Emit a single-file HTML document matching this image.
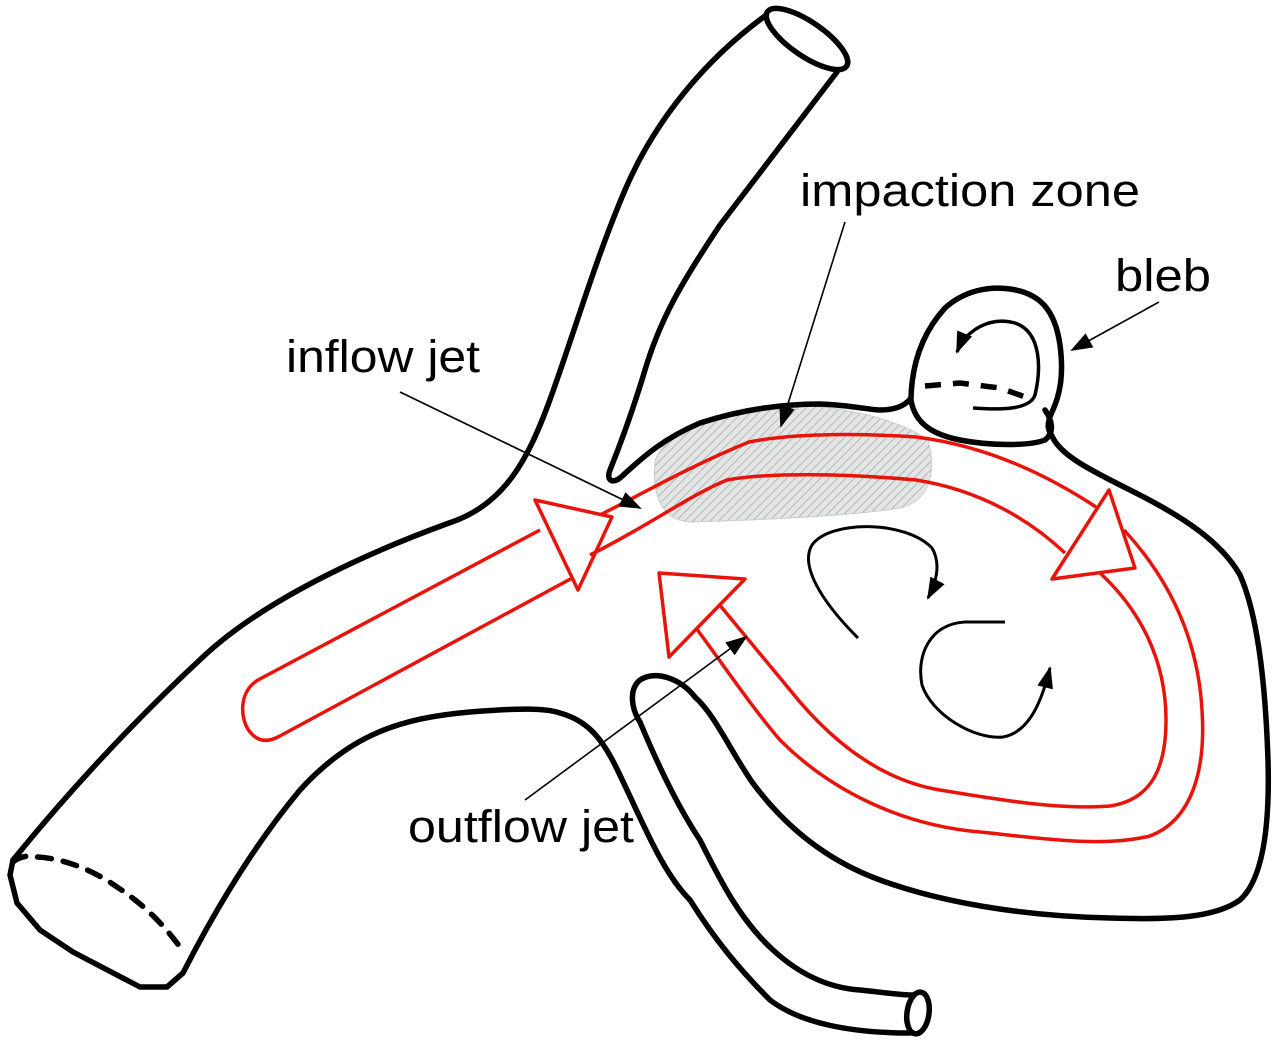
<!DOCTYPE html>
<html><head><meta charset="utf-8"><style>
html,body{margin:0;padding:0;background:#fff;}
svg{display:block;}
text{font-family:"Liberation Sans",Arial,sans-serif;fill:#000;}
</style></head><body>
<svg width="1280" height="1046" viewBox="0 0 1280 1046" xmlns="http://www.w3.org/2000/svg">
<defs>
<pattern id="hatch" width="6" height="6" patternUnits="userSpaceOnUse" patternTransform="rotate(45)">
<rect width="6" height="6" fill="#e4e6e6"/>
<line x1="0" y1="0" x2="0" y2="6" stroke="#a8acac" stroke-width="1.6"/>
</pattern>
<marker id="ahb" markerWidth="22" markerHeight="16" refX="20" refY="8" orient="auto" markerUnits="userSpaceOnUse" viewBox="0 0 22 16">
<path d="M0,0 L22,8 L0,16 Z" fill="#000"/>
</marker>
</defs>

<path d="M655,462 C662,432 720,410 780,405 C840,404 900,420 928,440 C936,470 932,500 900,508 C850,516 760,520 690,522 C660,520 652,492 655,462 Z" fill="url(#hatch)" stroke="#c8cccc" stroke-width="1"/>

<g fill="none" stroke="#000" stroke-width="5.5" stroke-linecap="round" stroke-linejoin="round">
<ellipse cx="807" cy="39" rx="48" ry="17" transform="rotate(34.5 807 39)"/>
<path d="M765,16 C705,60 655,120 625,190 C595,260 572,340 548,405 C528,458 505,505 449,523 C380,548 270,595 205,655 C135,720 70,790 13,860"/>
<path d="M13,860 L10,875 L17,903 L40,930 L73,952 L140,987 L167,987 L183,973"/>
<path d="M13,862 C20,856 30,855 37,857 C60,858 90,868 117,887 C140,902 160,920 180,947" stroke-dasharray="14,12"/>
<path d="M183,973 C210,920 250,850 300,790 C350,735 400,718 470,712 C520,708 545,708 560,713 C585,720 600,735 615,765 C640,815 660,870 690,900 C715,940 740,970 770,1000 C800,1023 850,1033 910,1033"/>
<path d="M837,72 C800,120 770,160 720,225 C680,285 660,320 645,370 C630,420 616,455 610,470 C606,480 612,484 620,478 C640,460 660,440 700,423 C740,410 780,404 820,404 C850,405 870,410 880,410 C895,410 905,406 911,398"/>
<path d="M911,398 C912,360 925,330 945,308 C965,290 990,286 1010,289 C1040,293 1055,310 1060,345 C1064,375 1060,395 1052,412 C1046,425 1048,430 1052,436"/>
<path d="M911,400 C915,425 935,435 960,440 C990,446 1030,446 1045,440 C1055,432 1052,420 1045,410"/>
<path d="M925,386 L960,383 L1000,388 L1028,398" stroke-dasharray="16,12" stroke-linecap="butt"/>
<path d="M1052,436 C1060,455 1090,470 1130,490 C1180,515 1220,540 1240,575 C1260,620 1266,700 1268,760 C1270,830 1262,880 1240,900 C1215,918 1170,920 1110,918 C1020,916 940,902 880,880 C820,858 780,820 752,782 C730,750 715,715 695,697"/>
<path d="M695,697 C680,678 655,670 640,680 C628,690 632,710 640,722 C660,770 680,810 700,840 C720,880 740,920 773,950 C800,975 830,988 860,990 C880,992 900,995 913,995"/>
<ellipse cx="918" cy="1013" rx="11" ry="21" transform="rotate(8 918 1013)"/>
</g>

<path d="M973,408 C1000,410 1030,410 1035,395 C1041,370 1042,332 1015,323 C990,316 966,330 957,352" fill="none" stroke="#000" stroke-width="3.5" marker-end="url(#ahb)"/>

<path d="M858,638 C820,600 800,565 812,545 C830,520 905,520 932,548 C942,565 935,585 928,598" fill="none" stroke="#000" stroke-width="3" marker-end="url(#ahb)"/>
<path d="M1005,622 L965,622 C930,624 916,655 922,685 C932,715 975,740 1003,737 C1030,732 1042,700 1050,668" fill="none" stroke="#000" stroke-width="3" marker-end="url(#ahb)"/>

<g fill="none" stroke="#e8140c" stroke-width="3.5" stroke-linejoin="round">
<path d="M540,530 L258,680 C238,692 240,720 250,732 C258,742 268,742 278,737 L576,576"/>
<path d="M535,500 L612,517 L578,590 Z" fill="#fff"/>
<path d="M600,515 C640,495 690,466 749,442 C800,432 870,434 916,437 C980,445 1040,470 1096,507"/>
<path d="M590,555 C650,525 690,495 727,480 C770,472 850,474 916,480 C980,490 1030,520 1065,553"/>
<path d="M1109,490 L1135,568 L1052,579 Z" fill="#fff"/>
<path d="M1124,530 C1170,580 1198,640 1202,710 C1206,770 1192,820 1150,836 C1100,848 1040,838 980,832 C900,825 830,790 780,740 C750,705 720,660 696,628"/>
<path d="M1100,573 C1140,610 1166,660 1166,720 C1166,770 1150,800 1110,806 C1060,810 1000,800 940,790 C880,780 830,740 790,690 C765,660 740,630 718,603"/>
<path d="M659,573 L745,579 L669,657 Z" fill="#fff"/>
</g>

<g stroke="#000" stroke-width="1.6" fill="none">
<line x1="400" y1="392" x2="640" y2="508" marker-end="url(#ahb)"/>
<line x1="845" y1="222" x2="781" y2="426" marker-end="url(#ahb)"/>
<line x1="1159" y1="302" x2="1072" y2="350" marker-end="url(#ahb)"/>
<line x1="525" y1="800" x2="746" y2="637" marker-end="url(#ahb)"/>
</g>

<text x="800" y="206" font-size="45" textLength="340" lengthAdjust="spacingAndGlyphs">impaction zone</text>
<text x="1115" y="291" font-size="45" textLength="96" lengthAdjust="spacingAndGlyphs">bleb</text>
<text x="286" y="372" font-size="45" textLength="194" lengthAdjust="spacingAndGlyphs">inflow jet</text>
<text x="408" y="842" font-size="45" textLength="226" lengthAdjust="spacingAndGlyphs">outflow jet</text>
</svg>
</body></html>
